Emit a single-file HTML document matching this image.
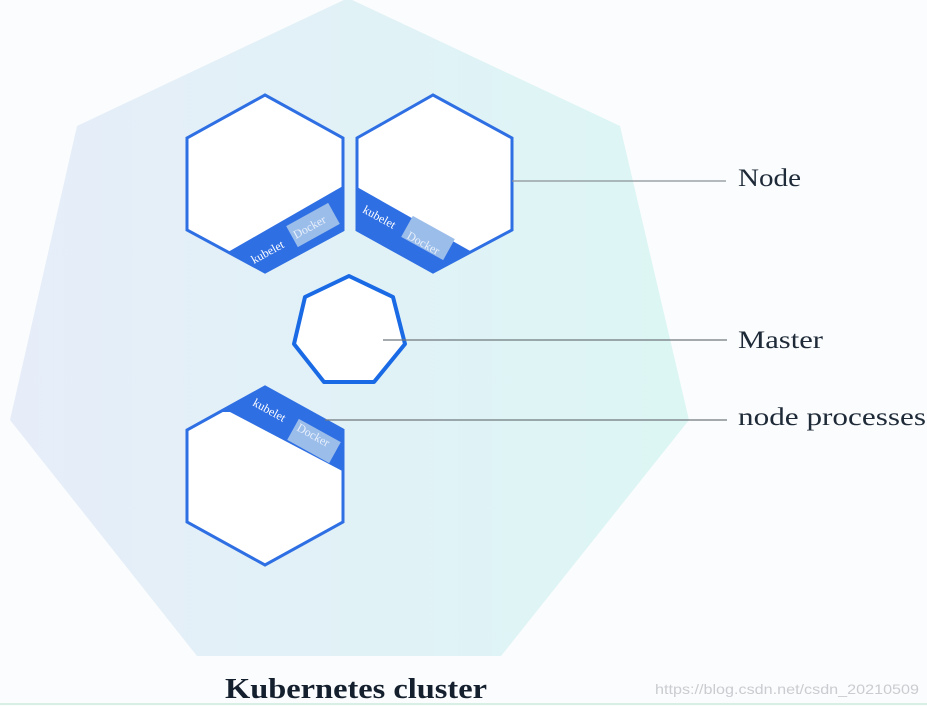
<!DOCTYPE html>
<html><head><meta charset="utf-8"><style>
html,body{margin:0;padding:0;background:#fbfcfd;}
svg{display:block}
</style></head><body>
<svg width="927" height="706" viewBox="0 0 927 706" xmlns="http://www.w3.org/2000/svg">
<defs>
<linearGradient id="bg" x1="0" y1="0" x2="1" y2="0">
<stop offset="0" stop-color="#e6edf9"/>
<stop offset="1" stop-color="#dcf6f4"/>
</linearGradient>
<clipPath id="h1"><polygon points="265,95 343,138 343,230 265,272 187,230 187,138"/></clipPath>
<clipPath id="h2"><polygon points="433,95 512,138 512,230 433,272 357,230 357,138"/></clipPath>
<clipPath id="h3"><polygon points="265,387 343,430 343,522 265,565 187,522 187,430"/></clipPath>
</defs>
<rect width="927" height="706" fill="#fbfcfd"/>
<polygon points="348,-2 620,126 689,420 501,656 197,656 10,420 77,126" fill="url(#bg)"/>
<line x1="0" y1="704" x2="927" y2="704" stroke="#d8efe6" stroke-width="2"/>

<!-- Hex 1 -->
<polygon points="265,95 343,138 343,230 265,272 187,230 187,138" fill="#fff"/>
<g clip-path="url(#h1)">
<polygon points="228,252 343,186 343,280 228,280" fill="#2f6fe4"/>
<rect x="-24" y="-12" width="48" height="24" fill="#9bbdea" transform="translate(313,225) rotate(-29)"/>
</g>
<polygon points="265,95 343,138 343,230 265,272 187,230 187,138" fill="none" stroke="#2f6fe4" stroke-width="3"/>
<text x="254" y="264" font-family="Liberation Serif,serif" font-size="12" fill="#fff" transform="rotate(-29 254 264)">kubelet</text>
<text x="296" y="239" font-family="Liberation Serif,serif" font-size="12" fill="#e8f0fb" transform="rotate(-29 296 239)">Docker</text>

<!-- Hex 2 -->
<polygon points="433,95 512,138 512,230 433,272 357,230 357,138" fill="#fff"/>
<g clip-path="url(#h2)">
<polygon points="357,187 472,252 472,280 357,280" fill="#2f6fe4"/>
<rect x="-24" y="-12" width="48" height="24" fill="#9bbdea" transform="translate(428,238) rotate(29)"/>
</g>
<polygon points="433,95 512,138 512,230 433,272 357,230 357,138" fill="none" stroke="#2f6fe4" stroke-width="3"/>
<text x="362" y="212" font-family="Liberation Serif,serif" font-size="12" fill="#fff" transform="rotate(29 362 212)">kubelet</text>
<text x="406" y="238" font-family="Liberation Serif,serif" font-size="12" fill="#e8f0fb" transform="rotate(29 406 238)">Docker</text>

<!-- Hex 3 -->
<polygon points="265,387 343,430 343,522 265,565 187,522 187,430" fill="#fff"/>
<g clip-path="url(#h3)">
<polygon points="180,380 350,380 350,475 230,412 180,412" fill="#2f6fe4"/>
<rect x="-24" y="-12" width="48" height="24" fill="#9bbdea" transform="translate(314,441) rotate(29)"/>
</g>
<polygon points="265,387 343,430 343,522 265,565 187,522 187,430" fill="none" stroke="#2f6fe4" stroke-width="3"/>
<text x="252" y="405" font-family="Liberation Serif,serif" font-size="12" fill="#fff" transform="rotate(29 252 405)">kubelet</text>
<text x="296" y="430" font-family="Liberation Serif,serif" font-size="12" fill="#e8f0fb" transform="rotate(29 296 430)">Docker</text>

<!-- Master -->
<polygon points="349,276 393,297 405,344 374,382 324,382 294,344 305,297" fill="#fff" stroke="#1a6ae6" stroke-width="4" stroke-linejoin="round"/>

<!-- connectors -->
<line x1="512" y1="181" x2="726" y2="181" stroke="#8a9197" stroke-width="1.3"/>
<line x1="383" y1="340" x2="727" y2="340" stroke="#6f777d" stroke-width="1.3"/>
<line x1="325" y1="420" x2="727" y2="420" stroke="#6f777d" stroke-width="1.3"/>

<g font-family="Liberation Serif,serif" fill="#1e2a38" font-size="25">
<text x="738" y="186" textLength="63" lengthAdjust="spacingAndGlyphs">Node</text>
<text x="738" y="348" textLength="85" lengthAdjust="spacingAndGlyphs">Master</text>
<text x="738" y="425" textLength="188" lengthAdjust="spacingAndGlyphs">node processes</text>
</g>
<text x="225" y="698" font-family="Liberation Serif,serif" font-weight="bold" font-size="28" fill="#14202e" textLength="262" lengthAdjust="spacingAndGlyphs">Kubernetes cluster</text>
<text x="655" y="694" font-family="Liberation Sans,sans-serif" font-size="14" fill="#c9ccd0" textLength="264" lengthAdjust="spacingAndGlyphs">https://blog.csdn.net/csdn_20210509</text>
</svg>
</body></html>
